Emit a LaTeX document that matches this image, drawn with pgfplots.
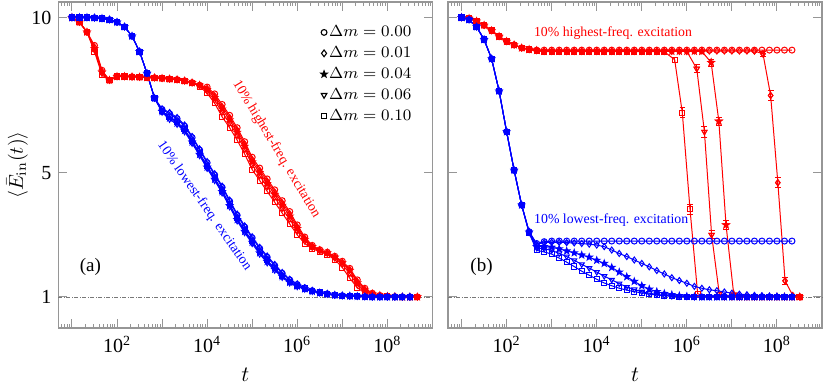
\documentclass[border=0pt]{standalone}
\usepackage[no-math]{fontspec}
\setmainfont{Liberation Serif}
\usepackage{pgfplots}
\usepackage{pgfplotstable}
\pgfplotsset{compat=1.18}

\pgfdeclareplotmark{fstar}{%
 \pgfpathmoveto{\pgfqpointpolar{90}{1.1\pgfplotmarksize}}%
 \pgfpathlineto{\pgfqpointpolar{126}{0.45\pgfplotmarksize}}%
 \pgfpathlineto{\pgfqpointpolar{162}{1.1\pgfplotmarksize}}%
 \pgfpathlineto{\pgfqpointpolar{198}{0.45\pgfplotmarksize}}%
 \pgfpathlineto{\pgfqpointpolar{234}{1.1\pgfplotmarksize}}%
 \pgfpathlineto{\pgfqpointpolar{270}{0.45\pgfplotmarksize}}%
 \pgfpathlineto{\pgfqpointpolar{306}{1.1\pgfplotmarksize}}%
 \pgfpathlineto{\pgfqpointpolar{342}{0.45\pgfplotmarksize}}%
 \pgfpathlineto{\pgfqpointpolar{18}{1.1\pgfplotmarksize}}%
 \pgfpathlineto{\pgfqpointpolar{54}{0.45\pgfplotmarksize}}%
 \pgfpathclose
 \pgfusepathqfillstroke}

% panel (a), lowest-frequency excitation (blue)
\pgfplotstableread{
t c0 c1 c4 c6 c10
10 10.00 10.00 10.00 10.00 10.00
14.68 10.00 10.00 10.00 10.00 10.00
21.54 10.00 10.00 10.00 10.00 10.00
31.62 9.99 9.99 9.99 9.99 9.99
46.42 9.97 9.97 9.97 9.97 9.97
68.13 9.93 9.93 9.93 9.93 9.93
100 9.85 9.85 9.85 9.85 9.85
146.8 9.70 9.70 9.70 9.70 9.70
215.4 9.40 9.40 9.40 9.40 9.40
316.2 8.90 8.90 8.90 8.90 8.90
464.2 8.20 8.20 8.20 8.20 8.20
681.3 7.40 7.40 7.40 7.40 7.40
1000 7.04 7.06 6.97 6.95 6.99
1468 6.90 6.94 6.76 6.72 6.80
2154 6.74 6.78 6.60 6.56 6.64
3162 6.50 6.54 6.36 6.32 6.40
4642 6.13 6.17 5.99 5.95 6.03
6813 5.73 5.77 5.59 5.55 5.63
1e4 5.32 5.36 5.18 5.14 5.22
1.468e4 4.93 4.97 4.79 4.75 4.83
2.154e4 4.53 4.57 4.39 4.35 4.43
3.162e4 4.08 4.12 3.94 3.90 3.98
4.642e4 3.63 3.67 3.49 3.45 3.53
6.813e4 3.25 3.29 3.11 3.07 3.15
1e5 2.90 2.94 2.76 2.72 2.80
1.468e5 2.56 2.60 2.42 2.38 2.46
2.154e5 2.28 2.32 2.14 2.10 2.18
3.162e5 2.01 2.05 1.89 1.86 1.92
4.642e5 1.76 1.79 1.66 1.63 1.68
6.813e5 1.55 1.57 1.47 1.45 1.49
1e6 1.40 1.42 1.35 1.33 1.36
1.468e6 1.29 1.30 1.26 1.25 1.27
2.154e6 1.20 1.21 1.18 1.18 1.19
3.162e6 1.14 1.14 1.13 1.13 1.14
4.642e6 1.10 1.10 1.09 1.09 1.10
6.813e6 1.06 1.06 1.06 1.06 1.06
1e7 1.04 1.04 1.04 1.04 1.04
1.468e7 1.03 1.03 1.03 1.03 1.03
2.154e7 1.02 1.02 1.02 1.02 1.02
3.162e7 1.01 1.01 1.01 1.01 1.01
4.642e7 1.00 1.00 1.00 1.00 1.00
6.813e7 1.00 1.00 1.00 1.00 1.00
1e8 1.00 1.00 1.00 1.00 1.00
1.468e8 1.00 1.00 1.00 1.00 1.00
2.154e8 1.00 1.00 1.00 1.00 1.00
3.162e8 1.00 1.00 1.00 1.00 1.00
}\blueA

% panel (a), highest-frequency excitation (red)
\pgfplotstableread{
t c0 c1 c4 c6 c10
10 10.00 10.00 10.00 10.00 10.00
14.68 9.85 9.85 9.85 9.85 9.85
21.54 9.53 9.53 9.53 9.53 9.53
31.62 9.10 9.05 9.00 8.95 8.90
46.42 8.30 8.27 8.24 8.20 8.15
68.13 7.98 7.98 7.98 7.98 7.98
100 8.10 8.10 8.10 8.10 8.10
146.8 8.10 8.10 8.10 8.10 8.10
215.4 8.09 8.09 8.09 8.09 8.09
316.2 8.08 8.08 8.08 8.08 8.08
464.2 8.07 8.07 8.07 8.07 8.07
681.3 8.06 8.06 8.06 8.06 8.06
1000 8.04 8.04 8.04 8.04 8.04
1468 8.02 8.02 8.02 8.02 8.02
2154 8.00 8.00 8.00 8.00 8.00
3162 7.96 7.96 7.96 7.96 7.96
4642 7.90 7.90 7.90 7.90 7.90
6813 7.82 7.82 7.82 7.80 7.78
1e4 7.76 7.72 7.68 7.63 7.56
1.468e4 7.54 7.48 7.42 7.34 7.24
2.154e4 7.20 7.13 7.05 6.95 6.80
3.162e4 6.85 6.78 6.70 6.60 6.45
4.642e4 6.45 6.38 6.30 6.20 6.05
6.813e4 6.00 5.93 5.85 5.75 5.60
1e5 5.50 5.43 5.35 5.25 5.10
1.468e5 5.15 5.08 5.00 4.90 4.75
2.154e5 4.80 4.73 4.65 4.55 4.40
3.162e5 4.45 4.38 4.30 4.20 4.05
4.642e5 4.10 4.03 3.95 3.85 3.70
6.813e5 3.75 3.68 3.60 3.50 3.35
1e6 3.32 3.26 3.20 3.12 3.00
1.468e6 2.93 2.89 2.85 2.80 2.72
2.154e6 2.66 2.64 2.62 2.59 2.55
3.162e6 2.52 2.51 2.50 2.48 2.46
4.642e6 2.44 2.43 2.42 2.40 2.36
6.813e6 2.31 2.30 2.28 2.25 2.20
1e7 2.15 2.12 2.10 2.05 1.95
1.468e7 1.92 1.88 1.85 1.75 1.60
2.154e7 1.55 1.50 1.45 1.38 1.30
3.162e7 1.28 1.25 1.22 1.18 1.12
4.642e7 1.12 1.11 1.10 1.08 1.06
6.813e7 1.05 1.05 1.05 1.04 1.03
1e8 1.02 1.02 1.02 1.02 1.02
1.468e8 1.01 1.01 1.01 1.01 1.01
2.154e8 1.00 1.00 1.00 1.00 1.00
3.162e8 1.00 1.00 1.00 1.00 1.00
4.642e8 1.00 1.00 1.00 1.00 1.00
}\redA

% panel (b), lowest-frequency excitation (blue)
\pgfplotstableread{
t c0 c1 c4 c6 c10
10 10.00 10.00 10.00 10.00 10.00
14.68 9.93 9.93 9.93 9.93 9.93
21.54 9.70 9.70 9.70 9.70 9.70
31.62 9.29 9.29 9.29 9.29 9.29
46.42 8.67 8.67 8.67 8.67 8.67
68.13 7.63 7.63 7.63 7.63 7.63
100 6.32 6.32 6.32 6.32 6.32
146.8 5.08 5.08 5.08 5.08 5.08
215.4 3.96 3.96 3.96 3.96 3.96
316.2 3.10 3.10 3.09 3.07 3.05
464.2 2.72 2.70 2.62 2.58 2.50
681.3 2.78 2.75 2.62 2.55 2.45
1000 2.80 2.76 2.60 2.50 2.38
1468 2.80 2.76 2.55 2.40 2.25
2154 2.80 2.75 2.48 2.30 2.12
3162 2.80 2.74 2.42 2.18 1.98
4642 2.80 2.72 2.35 2.05 1.83
6813 2.80 2.70 2.28 1.93 1.70
1e4 2.80 2.67 2.18 1.80 1.57
1.468e4 2.80 2.62 2.08 1.67 1.45
2.154e4 2.80 2.51 1.95 1.55 1.36
3.162e4 2.80 2.40 1.80 1.43 1.28
4.642e4 2.80 2.30 1.65 1.32 1.22
6.813e4 2.80 2.19 1.50 1.24 1.17
1e5 2.80 2.08 1.36 1.17 1.13
1.468e5 2.80 1.97 1.25 1.12 1.09
2.154e5 2.80 1.85 1.17 1.08 1.06
3.162e5 2.80 1.74 1.11 1.05 1.04
4.642e5 2.80 1.62 1.07 1.03 1.02
6.813e5 2.80 1.53 1.04 1.02 1.01
1e6 2.80 1.44 1.02 1.01 1.00
1.468e6 2.80 1.34 1.01 1.00 1.00
2.154e6 2.80 1.28 1.00 1.00 1.00
3.162e6 2.80 1.23 1.00 1.00 1.00
4.642e6 2.80 1.20 1.00 1.00 1.00
6.813e6 2.80 1.16 1.00 1.00 1.00
1e7 2.80 1.12 1.00 1.00 1.00
1.468e7 2.80 1.09 1.00 1.00 1.00
2.154e7 2.80 1.07 1.00 1.00 1.00
3.162e7 2.80 1.05 1.00 1.00 1.00
4.642e7 2.80 1.04 1.00 1.00 1.00
6.813e7 2.80 1.03 1.00 1.00 1.00
1e8 2.80 1.02 1.00 1.00 1.00
1.468e8 2.80 1.01 1.00 1.00 1.00
2.154e8 2.80 1.01 1.00 1.00 1.00
}\blueB

% panel (b), highest-frequency excitation (red), plateau part
\pgfplotstableread{
t c0 c1 c4 c6 c10
10 10.00 10.00 10.00 10.00 10.00
14.68 9.97 9.97 9.97 9.97 9.97
21.54 9.88 9.88 9.88 9.88 9.88
31.62 9.75 9.75 9.75 9.75 9.75
46.42 9.58 9.58 9.58 9.58 9.58
68.13 9.39 9.39 9.39 9.39 9.39
100 9.23 9.23 9.23 9.23 9.23
146.8 9.12 9.12 9.12 9.12 9.12
215.4 9.02 9.02 9.02 9.02 9.02
316.2 8.97 8.97 8.97 8.97 8.97
464.2 8.95 8.94 8.94 8.94 8.93
681.3 8.95 8.92 8.91 8.91 8.90
1000 8.95 8.92 8.91 8.91 8.90
1468 8.95 8.92 8.91 8.91 8.90
2154 8.95 8.92 8.91 8.91 8.90
3162 8.95 8.92 8.91 8.91 8.90
4642 8.95 8.92 8.91 8.91 8.90
6813 8.95 8.92 8.91 8.91 8.90
1e4 8.95 8.92 8.91 8.91 8.90
1.468e4 8.95 8.92 8.91 8.91 8.90
2.154e4 8.95 8.92 8.91 8.91 8.90
3.162e4 8.95 8.92 8.91 8.91 8.90
4.642e4 8.95 8.92 8.91 8.91 8.90
6.813e4 8.95 8.92 8.91 8.91 8.90
1e5 8.95 8.92 8.91 8.91 8.90
1.468e5 8.95 8.92 8.91 8.91 8.90
2.154e5 8.95 8.92 8.91 8.91 8.90
3.162e5 8.95 8.92 8.91 8.91 8.90
4.642e5 8.95 8.92 8.91 8.91 nan
6.813e5 8.95 8.92 8.91 8.91 nan
1e6 8.95 8.92 8.91 8.91 nan
1.468e6 8.95 8.92 8.91 nan nan
2.154e6 8.95 8.92 8.91 nan nan
3.162e6 8.95 8.92 nan nan nan
4.642e6 8.95 8.92 nan nan nan
6.813e6 8.95 8.92 nan nan nan
1e7 8.95 8.92 nan nan nan
1.468e7 8.95 8.92 nan nan nan
2.154e7 8.95 8.92 nan nan nan
3.162e7 8.95 8.92 nan nan nan
4.642e7 8.95 nan nan nan nan
6.813e7 8.95 nan nan nan nan
1e8 8.95 nan nan nan nan
1.468e8 8.95 nan nan nan nan
2.154e8 8.95 nan nan nan nan
}\redB

\definecolor{framegray}{RGB}{150,150,150}

\begin{document}
\begin{tikzpicture}
\path[use as bounding box] (0,0) rectangle (415pt,191.5pt);

% ---------------- panel (a)
\begin{axis}[at={(29.2pt,27.5pt)}, anchor=south west,
  xmode=log, scale only axis, width=187pt, height=163pt,
  xmin=5, xmax=1e9, ymin=0, ymax=10.5,
  xtick={1e1,1e2,1e3,1e4,1e5,1e6,1e7,1e8,1e9},
  minor xtick={6,7,8,9,20,30,40,50,60,70,80,90,200,300,400,500,600,700,800,900,2000,3000,4000,5000,6000,7000,8000,9000,2e4,3e4,4e4,5e4,6e4,7e4,8e4,9e4,2e5,3e5,4e5,5e5,6e5,7e5,8e5,9e5,2e6,3e6,4e6,5e6,6e6,7e6,8e6,9e6,2e7,3e7,4e7,5e7,6e7,7e7,8e7,9e7,2e8,3e8,4e8,5e8,6e8,7e8,8e8,9e8},
  xticklabels={,10\textsuperscript{2},,10\textsuperscript{4},,10\textsuperscript{6},,10\textsuperscript{8},},
  ytick={1,5,10},
  yticklabels={1,5,10},
  axis line style={framegray, line width=0.6pt},
  tick style={framegray, line width=0.5pt},
  major tick length=4.3pt, minor tick length=2pt,
  tick align=inside,
  tick label style={font=\fontsize{10}{11}\selectfont},
  xticklabel style={yshift=-0.5pt},
  xlabel={$t$},
  xlabel style={font=\fontsize{10.5}{12}\selectfont, at={(axis description cs:0.5,-0.144)}, anchor=center},
  ylabel={$\langle\bar{E}_{\mathrm{in}}(t)\rangle$},
  ylabel style={font=\fontsize{10}{12}\selectfont, at={(axis description cs:-0.11,0.5)}, anchor=center},
  clip=false,
  legend style={at={(0.95,0.937)}, anchor=north east, draw=none, fill=none, inner sep=0pt,
    font=\fontsize{8}{9}\selectfont, row sep=0.95pt,
    nodes={inner sep=1pt, text height=6pt, text depth=1.5pt}},
  legend cell align=left,
]
\addplot[framegray!80!black, line width=0.4pt, dash pattern=on 2pt off 0.8pt on 0.4pt off 0.8pt, forget plot] coordinates {(5,1) (1e9,1)};

\addplot[red, line width=0.5pt, mark size=1.5pt, forget plot, mark=o] table[x=t,y=c0]{\redA};
\addplot[red, line width=0.5pt, mark size=1.5pt, forget plot, mark=diamond] table[x=t,y=c1]{\redA};
\addplot[red, line width=0.5pt, mark size=1.5pt, forget plot, mark=fstar] table[x=t,y=c4]{\redA};
\addplot[red, line width=0.5pt, mark size=1.5pt, forget plot, mark=triangle, mark options={rotate=180}] table[x=t,y=c6]{\redA};
\addplot[red, line width=0.5pt, mark size=1.3pt, forget plot, mark=square] table[x=t,y=c10]{\redA};

\addplot[blue, line width=0.5pt, mark size=1.5pt, forget plot, mark=o] table[x=t,y=c0]{\blueA};
\addplot[blue, line width=0.5pt, mark size=1.5pt, forget plot, mark=diamond] table[x=t,y=c1]{\blueA};
\addplot[blue, line width=0.5pt, mark size=1.5pt, forget plot, mark=fstar] table[x=t,y=c4]{\blueA};
\addplot[blue, line width=0.5pt, mark size=1.5pt, forget plot, mark=triangle, mark options={rotate=180}] table[x=t,y=c6]{\blueA};
\addplot[blue, line width=0.5pt, mark size=1.3pt, forget plot, mark=square] table[x=t,y=c10]{\blueA};

\addlegendimage{black, only marks, line width=0.55pt, mark size=1.45pt, mark=o}
\addlegendentry{$\Delta m = 0.00$}
\addlegendimage{black, only marks, line width=0.55pt, mark size=1.7pt, mark=diamond}
\addlegendentry{$\Delta m = 0.01$}
\addlegendimage{black, only marks, line width=0.55pt, mark size=1.5pt, mark=fstar}
\addlegendentry{$\Delta m = 0.04$}
\addlegendimage{black, only marks, line width=0.55pt, mark size=1.6pt, mark=triangle, mark options={rotate=180}}
\addlegendentry{$\Delta m = 0.06$}
\addlegendimage{black, only marks, line width=0.55pt, mark size=1.25pt, mark=square}
\addlegendentry{$\Delta m = 0.10$}

\node[red, rotate=-59, font=\fontsize{6.9}{8}\selectfont] at (axis cs:3.45e5,5.76) {10\% highest-freq. excitation};
\node[blue, rotate=-55, font=\fontsize{6.9}{8}\selectfont] at (axis cs:8.7e3,3.93) {10\% lowest-freq. excitation};
\node[font=\fontsize{9.5}{11}\selectfont] at (axis cs:25.6,1.96) {(a)};
\end{axis}

% ---------------- panel (b)
\begin{axis}[at={(224pt,27.5pt)}, anchor=south west,
  xmode=log, scale only axis, width=187pt, height=163pt,
  xmin=5, xmax=1e9, ymin=0, ymax=10.5,
  xtick={1e1,1e2,1e3,1e4,1e5,1e6,1e7,1e8,1e9},
  minor xtick={6,7,8,9,20,30,40,50,60,70,80,90,200,300,400,500,600,700,800,900,2000,3000,4000,5000,6000,7000,8000,9000,2e4,3e4,4e4,5e4,6e4,7e4,8e4,9e4,2e5,3e5,4e5,5e5,6e5,7e5,8e5,9e5,2e6,3e6,4e6,5e6,6e6,7e6,8e6,9e6,2e7,3e7,4e7,5e7,6e7,7e7,8e7,9e7,2e8,3e8,4e8,5e8,6e8,7e8,8e8,9e8},
  xticklabels={,10\textsuperscript{2},,10\textsuperscript{4},,10\textsuperscript{6},,10\textsuperscript{8},},
  ytick={1,5,10},
  yticklabels={},
  axis line style={framegray, line width=0.6pt},
  tick style={framegray, line width=0.5pt},
  major tick length=4.3pt, minor tick length=2pt,
  tick align=inside,
  tick label style={font=\fontsize{10}{11}\selectfont},
  xticklabel style={yshift=-0.5pt},
  xlabel={$t$},
  xlabel style={font=\fontsize{10.5}{12}\selectfont, at={(axis description cs:0.5,-0.144)}, anchor=center},
  clip=false,
]
\addplot[framegray!80!black, line width=0.4pt, dash pattern=on 2pt off 0.8pt on 0.4pt off 0.8pt, forget plot] coordinates {(5,1) (1e9,1)};

\addplot[red, line width=0.5pt, mark size=1.5pt, forget plot, mark=o] table[x=t,y=c0]{\redB};
\addplot[red, line width=0.5pt, mark size=1.5pt, forget plot, mark=diamond] table[x=t,y=c1]{\redB};
\addplot[red, line width=0.5pt, mark size=1.5pt, forget plot, mark=fstar] table[x=t,y=c4]{\redB};
\addplot[red, line width=0.5pt, mark size=1.5pt, forget plot, mark=triangle, mark options={rotate=180}] table[x=t,y=c6]{\redB};
\addplot[red, line width=0.5pt, mark size=1.3pt, forget plot, mark=square] table[x=t,y=c10]{\redB};

% drops of the red curves
\addplot[red, line width=0.5pt, mark size=1.3pt, forget plot, mark=square] coordinates {(3.162e5,8.90) (5.37e5,8.64) (7.94e5,6.93) (1.175e6,3.83) (1.738e6,1.10) (3.162e6,1) (4.642e6,1) (6.813e6,1) (1e7,1) (1.468e7,1) (2.154e7,1) (3.162e7,1) (4.642e7,1) (6.813e7,1) (1e8,1) (1.468e8,1) (2.154e8,1) (3.162e8,1)};
\addplot[red, line width=0.5pt, mark size=1.5pt, forget plot, mark=triangle, mark options={rotate=180}] coordinates {(1e6,8.91) (1.66e6,8.35) (2.455e6,6.32) (3.548e6,3.00) (5.25e6,1.10) (6.813e6,1) (1e7,1) (1.468e7,1) (2.154e7,1) (3.162e7,1) (4.642e7,1) (6.813e7,1) (1e8,1) (1.468e8,1) (2.154e8,1) (3.162e8,1)};
\addplot[red, line width=0.5pt, mark size=1.5pt, forget plot, mark=fstar] coordinates {(2.154e6,8.91) (3.467e6,8.55) (5.13e6,6.66) (7.41e6,3.32) (1.096e7,1.10) (1.468e7,1) (2.154e7,1) (3.162e7,1) (4.642e7,1) (6.813e7,1) (1e8,1) (1.468e8,1) (2.154e8,1) (3.162e8,1)};
\addplot[red, line width=0.5pt, mark size=1.5pt, forget plot, mark=diamond] coordinates {(3.162e7,8.92) (4.9e7,8.83) (7.24e7,7.49) (1.047e8,4.68) (1.514e8,1.52) (2.24e8,1.05) (3.31e8,1.00)};

% error bars on the dropping points
\addplot[red, only marks, line width=0.5pt, mark size=1.3pt, mark=square, forget plot,
  error bars/.cd, y dir=both, y explicit]
 coordinates {(5.37e5,8.64) +- (0,0.09) (7.94e5,6.93) +- (0,0.16) (1.175e6,3.83) +- (0,0.16)};
\addplot[red, only marks, line width=0.5pt, mark size=1.5pt, mark=triangle, mark options={rotate=180}, forget plot,
  error bars/.cd, y dir=both, y explicit]
 coordinates {(1.66e6,8.35) +- (0,0.13) (2.455e6,6.32) +- (0,0.17) (3.548e6,3.00) +- (0,0.13)};
\addplot[red, only marks, line width=0.5pt, mark size=1.5pt, mark=fstar, forget plot,
  error bars/.cd, y dir=both, y explicit]
 coordinates {(3.467e6,8.55) +- (0,0.11) (5.13e6,6.66) +- (0,0.13) (7.41e6,3.32) +- (0,0.13)};
\addplot[red, only marks, line width=0.5pt, mark size=1.5pt, mark=diamond, forget plot,
  error bars/.cd, y dir=both, y explicit]
 coordinates {(4.9e7,8.83) +- (0,0.09) (7.24e7,7.49) +- (0,0.16) (1.047e8,4.68) +- (0,0.16) (1.514e8,1.52) +- (0,0.11)};

\addplot[blue, line width=0.5pt, mark size=1.5pt, forget plot, mark=o] table[x=t,y=c0]{\blueB};
\addplot[blue, line width=0.5pt, mark size=1.5pt, forget plot, mark=diamond] table[x=t,y=c1]{\blueB};
\addplot[blue, line width=0.5pt, mark size=1.5pt, forget plot, mark=fstar] table[x=t,y=c4]{\blueB};
\addplot[blue, line width=0.5pt, mark size=1.5pt, forget plot, mark=triangle, mark options={rotate=180}] table[x=t,y=c6]{\blueB};
\addplot[blue, line width=0.5pt, mark size=1.3pt, forget plot, mark=square] table[x=t,y=c10]{\blueB};

\node[red, font=\fontsize{6.9}{8}\selectfont] at (axis cs:2.3e4,9.49) {10\% highest-freq. excitation};
\node[blue, font=\fontsize{6.9}{8}\selectfont] at (axis cs:2.1e4,3.48) {10\% lowest-freq. excitation};
\node[font=\fontsize{9.5}{11}\selectfont] at (axis cs:27.7,1.97) {(b)};
\end{axis}
\end{tikzpicture}
\end{document}
